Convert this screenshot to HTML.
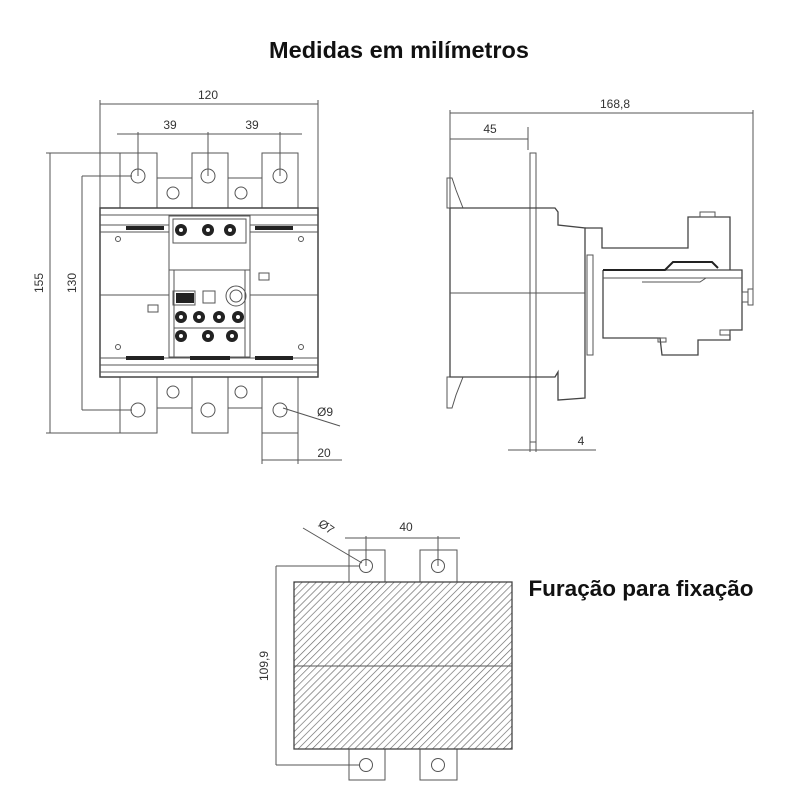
<!DOCTYPE html>
<html><head><meta charset="utf-8"><style>
html,body{margin:0;padding:0;background:#fff;}
svg{display:block;}
text{font-family:"Liberation Sans",sans-serif;fill:#333;}
</style></head><body>
<svg width="800" height="800" viewBox="0 0 800 800" xmlns="http://www.w3.org/2000/svg">
<defs>
<pattern id="h" patternUnits="userSpaceOnUse" width="5" height="5" patternTransform="rotate(45)">
<line x1="0" y1="0" x2="0" y2="5" stroke="#666" stroke-width="1.3"/>
</pattern>
</defs>
<text x="399" y="58" text-anchor="middle" style="font-weight:bold;font-size:23.5px;fill:#111">Medidas em milímetros</text>
<text x="641" y="596" text-anchor="middle" style="font-weight:bold;font-size:22.5px;fill:#111">Furação para fixação</text>

<g fill="none" stroke="#555" stroke-width="1">
<line x1="100" y1="104" x2="318" y2="104"/>
<line x1="100" y1="100" x2="100" y2="208"/><line x1="318" y1="100" x2="318" y2="208"/>
<line x1="117" y1="134" x2="302" y2="134"/>
<line x1="138" y1="132" x2="138" y2="176"/><line x1="208" y1="132" x2="208" y2="176"/><line x1="280" y1="132" x2="280" y2="176"/>
<line x1="50" y1="153" x2="50" y2="433"/><line x1="46" y1="153" x2="120" y2="153"/><line x1="46" y1="433" x2="120" y2="433"/>
<line x1="82" y1="176" x2="82" y2="410"/><line x1="82" y1="176" x2="132" y2="176"/><line x1="82" y1="410" x2="132" y2="410"/>
<line x1="262" y1="433" x2="262" y2="464"/><line x1="298" y1="433" x2="298" y2="464"/>
<line x1="262" y1="460" x2="342" y2="460"/>
<line x1="283" y1="408" x2="340" y2="426"/>
<rect x="120" y="153" width="37" height="55"/><rect x="192" y="153" width="36" height="55"/><rect x="262" y="153" width="36" height="55"/>
<circle cx="138" cy="176" r="7"/><circle cx="208" cy="176" r="7"/><circle cx="280" cy="176" r="7"/>
<rect x="157" y="178" width="35" height="30"/><rect x="228" y="178" width="34" height="30"/>
<circle cx="173" cy="193" r="6"/><circle cx="241" cy="193" r="6"/>
<rect x="120" y="377" width="37" height="56"/><rect x="192" y="377" width="36" height="56"/><rect x="262" y="377" width="36" height="56"/>
<circle cx="138" cy="410" r="7"/><circle cx="208" cy="410" r="7"/><circle cx="280" cy="410" r="7"/>
<rect x="157" y="377" width="35" height="31"/><rect x="228" y="377" width="34" height="31"/>
<circle cx="173" cy="392" r="6"/><circle cx="241" cy="392" r="6"/>
<rect x="100" y="208" width="218" height="169" stroke="#444" stroke-width="1.5"/>
<line x1="100" y1="215" x2="318" y2="215"/><line x1="100" y1="225" x2="318" y2="225"/><line x1="100" y1="232" x2="318" y2="232"/>
<line x1="100" y1="358" x2="318" y2="358"/><line x1="100" y1="365" x2="318" y2="365"/><line x1="100" y1="372" x2="318" y2="372"/>
<line x1="100" y1="295" x2="318" y2="295"/>
<circle cx="118" cy="239" r="2.5"/><circle cx="301" cy="239" r="2.5"/><circle cx="118" cy="347" r="2.5"/><circle cx="301" cy="347" r="2.5"/>
<rect x="148" y="305" width="10" height="7"/><rect x="259" y="273" width="10" height="7"/>
<rect x="169" y="216" width="81" height="141" fill="#fff"/>
<rect x="173" y="219" width="73" height="24"/>
<line x1="169" y1="270" x2="250" y2="270"/>
<line x1="174" y1="270" x2="174" y2="357"/><line x1="245" y1="270" x2="245" y2="357"/>
<line x1="174" y1="328" x2="245" y2="328"/>
<circle cx="236" cy="296" r="10"/><circle cx="236" cy="296" r="6"/>
<rect x="203" y="291" width="12" height="12"/>
<rect x="173" y="291" width="22" height="14"/>
</g>
<g fill="#222">
<circle cx="181" cy="230" r="6"/><circle cx="208" cy="230" r="6"/><circle cx="230" cy="230" r="6"/>
<circle cx="181" cy="317" r="6"/><circle cx="199" cy="317" r="6"/><circle cx="219" cy="317" r="6"/><circle cx="238" cy="317" r="6"/>
<circle cx="181" cy="336" r="6"/><circle cx="208" cy="336" r="6"/><circle cx="232" cy="336" r="6"/>
<rect x="126" y="226" width="38" height="4"/><rect x="255" y="226" width="38" height="4"/>
<rect x="126" y="356" width="38" height="4"/><rect x="255" y="356" width="38" height="4"/><rect x="190" y="356" width="40" height="4"/>
<rect x="176" y="293" width="18" height="10"/>
</g>
<g fill="#fff"><circle cx="181" cy="230" r="2"/><circle cx="208" cy="230" r="2"/><circle cx="230" cy="230" r="2"/>
<circle cx="181" cy="317" r="2"/><circle cx="199" cy="317" r="2"/><circle cx="219" cy="317" r="2"/><circle cx="238" cy="317" r="2"/>
<circle cx="181" cy="336" r="2"/><circle cx="208" cy="336" r="2"/><circle cx="232" cy="336" r="2"/></g>
<text x="208" y="99" text-anchor="middle" font-size="12">120</text>
<text x="170" y="129" text-anchor="middle" font-size="12">39</text>
<text x="252" y="129" text-anchor="middle" font-size="12">39</text>
<text transform="translate(43,283) rotate(-90)" text-anchor="middle" font-size="12">155</text>
<text transform="translate(76,283) rotate(-90)" text-anchor="middle" font-size="12">130</text>
<text x="324" y="457" text-anchor="middle" font-size="12">20</text>
<text x="325" y="416" text-anchor="middle" font-size="12">Ø9</text>

<g fill="none" stroke="#555" stroke-width="1">
<line x1="450" y1="113" x2="753" y2="113"/>
<line x1="450" y1="110" x2="450" y2="208"/><line x1="753" y1="110" x2="753" y2="300"/>
<line x1="450" y1="139" x2="528" y2="139"/><line x1="528" y1="127" x2="528" y2="150"/>
<rect x="530" y="153" width="6" height="289"/>
<line x1="508" y1="450" x2="596" y2="450"/>
<line x1="530" y1="442" x2="530" y2="452"/><line x1="536" y1="442" x2="536" y2="452"/>
<polyline points="452,208 447,208 447,178 452,178 456,190 463,208"/>
<polyline points="452,377 447,377 447,408 452,408 456,395 463,377"/>
<polyline stroke="#444" stroke-width="1.3" points="450,208 555,208 558,212 558,225 585,228 585,398 558,400 558,372 555,377 450,377 450,208"/>
<line x1="450" y1="293" x2="585" y2="293"/>
<rect x="587" y="255" width="6" height="100"/>
<polyline stroke="#444" stroke-width="1.3" points="585,228 602,228 602,248 688,248 688,217 730,217 730,270"/>
<polyline stroke="#444" stroke-width="1.3" points="603,270 742,270 742,330 730,330 730,340 698,340 698,355 662,355 660,338 603,338 603,270"/>
<polyline stroke="#222" stroke-width="2" points="603,270 665,270 673,262 712,262 718,268"/>
<line x1="603" y1="278" x2="742" y2="278"/>
<polyline points="642,282 700,282 706,278"/>
<rect x="742" y="292" width="6" height="10"/><rect x="748" y="289" width="5" height="16"/>
<rect x="720" y="330" width="10" height="5"/><rect x="658" y="338" width="8" height="4"/>
<rect x="700" y="212" width="15" height="5"/>
</g>
<text x="615" y="108" text-anchor="middle" font-size="12">168,8</text>
<text x="490" y="133" text-anchor="middle" font-size="12">45</text>
<text x="581" y="445" text-anchor="middle" font-size="12">4</text>

<g fill="none" stroke="#555" stroke-width="1">
<rect x="349" y="550" width="36" height="32"/><rect x="420" y="550" width="37" height="32"/>
<rect x="349" y="749" width="36" height="31"/><rect x="420" y="749" width="37" height="31"/>
<circle cx="366" cy="566" r="6.5"/><circle cx="438" cy="566" r="6.5"/>
<circle cx="366" cy="765" r="6.5"/><circle cx="438" cy="765" r="6.5"/>
<rect x="294" y="582" width="218" height="167" fill="url(#h)" stroke="#444" stroke-width="1.3"/>
<line x1="294" y1="666" x2="512" y2="666"/>
<line x1="345" y1="538" x2="460" y2="538"/>
<line x1="366" y1="536" x2="366" y2="566"/><line x1="438" y1="536" x2="438" y2="566"/>
<line x1="303" y1="528" x2="362" y2="563"/>
<line x1="276" y1="566" x2="276" y2="765"/><line x1="276" y1="566" x2="360" y2="566"/><line x1="276" y1="765" x2="360" y2="765"/>
</g>
<text x="406" y="531" text-anchor="middle" font-size="12">40</text>
<text transform="translate(324,530) rotate(35)" text-anchor="middle" font-size="12">Ø7</text>
<text transform="translate(268,666) rotate(-90)" text-anchor="middle" font-size="12">109,9</text>
</svg>
</body></html>
